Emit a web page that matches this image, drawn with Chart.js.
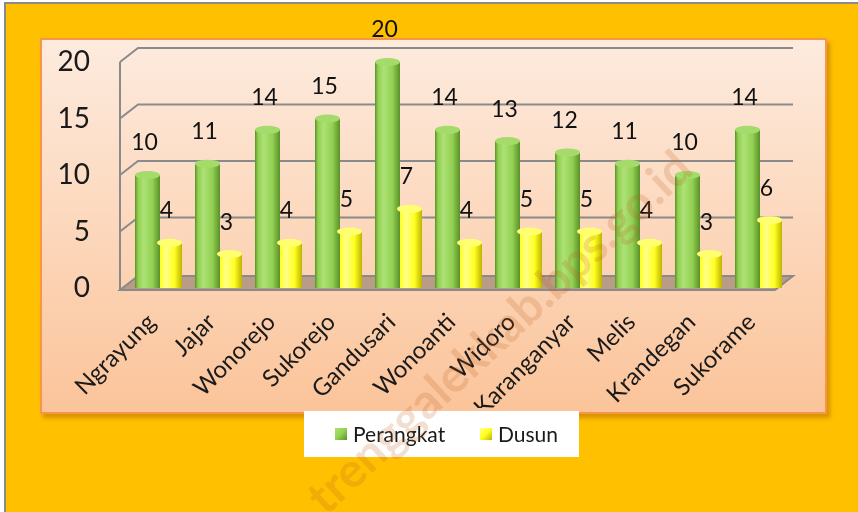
<!DOCTYPE html>
<html>
<head>
<meta charset="utf-8">
<script src="https://cdn.jsdelivr.net/npm/chart.js@4.4.0/dist/chart.umd.min.js"></script>
<style>
  html, body { margin: 0; padding: 0; }
  body { width: 858px; height: 512px; background: #fff; position: relative; overflow: hidden; }
  #frame { position: absolute; left: 4px; top: 2px; right: 0; bottom: 0; background: #FFC000;
           border-left: 2px solid #8a8a8a; border-top: 2px solid #8a8a8a; }
  #panel { position: absolute; left: 40px; top: 38px; width: 787px; height: 376px; box-sizing: border-box;
           border: 2px solid #F79646; background: linear-gradient(#FDEBDE, #FBC49A);
           box-shadow: 3px 4px 4px rgba(160, 90, 0, 0.45); }
  #wrap { position: absolute; left: 0; top: 0; width: 858px; height: 512px; }
</style>
</head>
<body>
<div id="frame"></div>
<div id="panel"></div>
<div id="wrap"><canvas id="barChart" width="858" height="512"></canvas></div>
<script>
// data
const villages = ['Ngrayung', 'Jajar', 'Wonorejo', 'Sukorejo', 'Gandusari', 'Wonoanti',
                  'Widoro', 'Karanganyar', 'Melis', 'Krandegan', 'Sukorame'];
const perangkat = [10, 11, 14, 15, 20, 14, 13, 12, 11, 10, 14];
const dusun = [4, 3, 4, 5, 7, 4, 5, 5, 4, 3, 6];
const yTicks = [0, 5, 10, 15, 20];
const seriesNames = ['Perangkat', 'Dusun'];

const FONT = 'Lato, "Open Sans", sans-serif';
const palette = [
    { edge: '#5A9028', mid: '#92D052', light: '#ADE276', cap: '#A4DB6A' },
    { edge: '#BDB400', mid: '#FFFF20', light: '#FFFF8A', cap: '#FFFF70' }
];
const BAR_W = 25;
const SHIFT = [-11, 11];

function barCenter(chart, i, ds) {
    return chart.scales.x.getPixelForValue(i) + SHIFT[ds];
}

function cylinderFill(c) {
    const chart = c.chart;
    const p = palette[c.datasetIndex];
    if (!chart.scales.x) return p.mid;
    const cx = barCenter(chart, c.dataIndex, c.datasetIndex);
    if (!isFinite(cx)) return p.mid;
    const g = chart.ctx.createLinearGradient(cx - BAR_W / 2, 0, cx + BAR_W / 2, 0);
    g.addColorStop(0, p.edge);
    g.addColorStop(0.12, p.mid);
    g.addColorStop(0.35, p.light);
    g.addColorStop(0.7, p.mid);
    g.addColorStop(1, p.edge);
    return g;
}

// back wall, left wall and floor drawn as a fake 3D box
const frame3d = {
    id: 'frame3d',
    beforeDatasetsDraw(chart) {
        const { ctx, chartArea: a, scales: { y } } = chart;
        const fl = a.left - 8.5, fr = a.right - 13.5, dx = 18, dy = -14;
        const y0 = y.getPixelForValue(0) + 2;
        ctx.save();
        ctx.strokeStyle = '#8A8A8A';
        ctx.lineWidth = 2;
        // floor
        ctx.beginPath();
        ctx.moveTo(fl, y0);
        ctx.lineTo(fr, y0);
        ctx.lineTo(fr + dx, y0 + dy);
        ctx.lineTo(fl + dx, y0 + dy);
        ctx.closePath();
        ctx.fillStyle = '#B89C88';
        ctx.fill();
        ctx.stroke();
        // grid lines on the back wall
        yTicks.forEach(v => {
            if (v === 0) return;
            const py = y.getPixelForValue(v);
            ctx.beginPath();
            ctx.moveTo(fl, py);
            ctx.lineTo(fl + dx, py + dy);
            ctx.lineTo(fr + dx, py + dy);
            ctx.stroke();
        });
        ctx.beginPath();
        ctx.moveTo(fl, y.getPixelForValue(yTicks[yTicks.length - 1]));
        ctx.lineTo(fl, y0);
        ctx.stroke();
        ctx.restore();
    }
};

// cylinder caps and value labels
const capsAndLabels = {
    id: 'capsAndLabels',
    afterDatasetsDraw(chart) {
        const ctx = chart.ctx;
        ctx.save();
        [1, 0].forEach(ds => {
            chart.getDatasetMeta(ds).data.forEach((bar, i) => {
                const cx = barCenter(chart, i, ds);
                ctx.beginPath();
                ctx.ellipse(cx, bar.y, BAR_W / 2, 4, 0, 0, Math.PI * 2);
                ctx.fillStyle = palette[ds].cap;
                ctx.fill();
            });
        });
        ctx.font = '23px ' + FONT;
        ctx.fillStyle = '#111';
        ctx.textAlign = 'center';
        ctx.textBaseline = 'middle';
        chart.data.datasets.forEach((set, ds) => {
            chart.getDatasetMeta(ds).data.forEach((bar, i) => {
                ctx.fillText(String(set.data[i]), barCenter(chart, i, ds) - 3, bar.y - 32);
            });
        });
        ctx.restore();
    }
};

// white legend box + watermark
const legendBox = {
    id: 'legendBox',
    afterDraw(chart) {
        const ctx = chart.ctx;
        ctx.save();
        ctx.fillStyle = '#fff';
        ctx.fillRect(304, 411, 275, 46);
        const items = [{ x: 335 }, { x: 480 }];
        ctx.font = '21px ' + FONT;
        ctx.textBaseline = 'middle';
        items.forEach((it, k) => {
            const p = palette[k];
            const g = ctx.createLinearGradient(it.x, 428, it.x + 12, 440);
            g.addColorStop(0, p.light);
            g.addColorStop(0.5, p.mid);
            g.addColorStop(1, p.edge);
            ctx.fillStyle = g;
            ctx.fillRect(it.x, 428, 12, 12);
            ctx.fillStyle = '#1a1a1a';
            ctx.fillText(seriesNames[k], it.x + 18, 435);
        });
        // watermark
        ctx.translate(500, 333);
        ctx.rotate(-43 * Math.PI / 180);
        ctx.font = 'bold 48px ' + FONT;
        ctx.fillStyle = 'rgba(190, 95, 30, 0.2)';
        ctx.textAlign = 'center';
        ctx.fillText('trenggalekkab.bps.go.id', 0, 0);
        ctx.restore();
    }
};

const chart = new Chart(document.getElementById('barChart'), {
    type: 'bar',
    data: {
        labels: villages,
        datasets: [
            { label: seriesNames[0], data: perangkat, backgroundColor: cylinderFill, borderWidth: 0 },
            { label: seriesNames[1], data: dusun, backgroundColor: cylinderFill, borderWidth: 0 }
        ]
    },
    options: {
        responsive: false,
        animation: false,
        categoryPercentage: 44 / 60,
        barPercentage: BAR_W / 22,
        layout: { padding: { left: 0, right: 69.5, top: 62, bottom: 104 } },
        plugins: { legend: { display: false }, tooltip: { enabled: false } },
        scales: {
            x: {
                grid: { display: false, drawTicks: false },
                border: { display: false },
                ticks: { maxRotation: 45, minRotation: 45, padding: 20, labelOffset: -7, color: '#1a1a1a', font: { family: FONT, size: 24 } },
                afterFit(s) { s.height = 120; }
            },
            y: {
                min: 0, max: 20,
                grid: { display: false, drawTicks: false },
                border: { display: false },
                ticks: { stepSize: 5, padding: 38.5, color: '#1a1a1a', font: { family: FONT, size: 28 } },
                afterFit(s) { s.width = 128.5; }
            }
        }
    },
    plugins: [frame3d, capsAndLabels, legendBox]
});
</script>
</body>
</html>
